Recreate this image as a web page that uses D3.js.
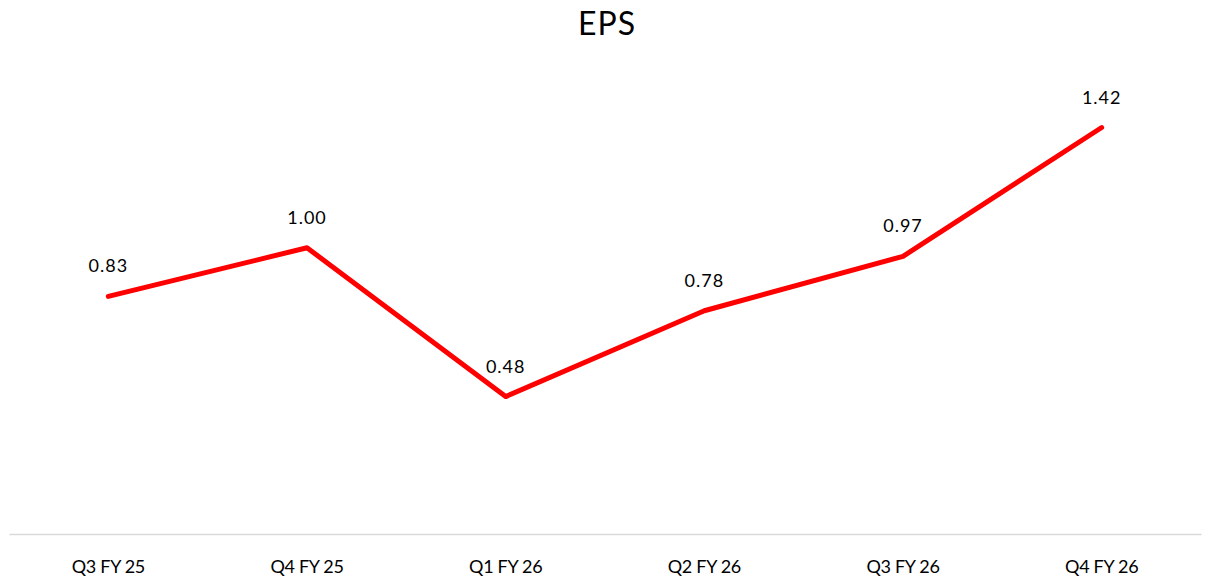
<!DOCTYPE html>
<meta charset="utf-8">
<script src="https://d3js.org/d3.v7.js"></script>
<style>
  body { margin: 0; background: #fff; }
  text { font-family: Lato, "Open Sans", sans-serif; fill: #000; }
</style>
<div id="my_dataviz"></div>
<script>

    // data
    const quarters = ["Q3 FY 25", "Q4 FY 25", "Q1 FY 26", "Q2 FY 26", "Q3 FY 26", "Q4 FY 26"];
    const eps = [0.83, 1.00, 0.48, 0.78, 0.97, 1.42];
    const epsLabels = ["0.83", "1.00", "0.48", "0.78", "0.97", "1.42"];

    const width = 1207, height = 580;

    const svg = d3.select("#my_dataviz")
      .append("svg")
        .attr("width", width)
        .attr("height", height);

    // title
    svg.append("text")
      .attr("x", 607)
      .attr("y", 35)
      .attr("text-anchor", "middle")
      .style("font-size", "32px")
      .style("letter-spacing", "1px")
      .text("EPS");

    // X scale
    const x = d3.scaleBand()
      .domain(quarters)
      .range([9, 1201]);
    const cx = d => x(d) + x.bandwidth() / 2;

    // Y scale (hidden axis)
    const y = d3.scaleLinear()
      .domain([0, 1.6])
      .range([534, 76]);

    // X axis line + labels
    const xAxis = svg.append("g")
      .attr("transform", `translate(0, ${y(0)})`)
      .call(d3.axisBottom(x).tickSize(0).tickPadding(0));
    xAxis.select(".domain")
      .attr("stroke", "#d9d9d9")
      .attr("stroke-width", 1.5);
    xAxis.selectAll("text")
      .attr("y", 39)
      .attr("dy", null)
      .style("font-family", "Lato, sans-serif")
      .style("font-size", "18px")
      .style("letter-spacing", "-0.3px")
      .attr("fill", "#000");

    // line
    const data = quarters.map((q, i) => ({q: q, v: eps[i], l: epsLabels[i]}));
    svg.append("path")
      .datum(data)
      .attr("fill", "none")
      .attr("stroke", "#ff0000")
      .attr("stroke-width", 5)
      .attr("stroke-linejoin", "round")
      .attr("stroke-linecap", "round")
      .attr("d", d3.line().x(d => cx(d.q)).y(d => y(d.v)));

    // data labels
    svg.selectAll("myLabels")
      .data(data)
      .join("text")
        .attr("x", d => cx(d.q))
        .attr("y", d => y(d.v) - 24)
        .attr("text-anchor", "middle")
        .style("font-size", "18px")
        .style("letter-spacing", "1px")
        .text(d => d.l);

</script>
